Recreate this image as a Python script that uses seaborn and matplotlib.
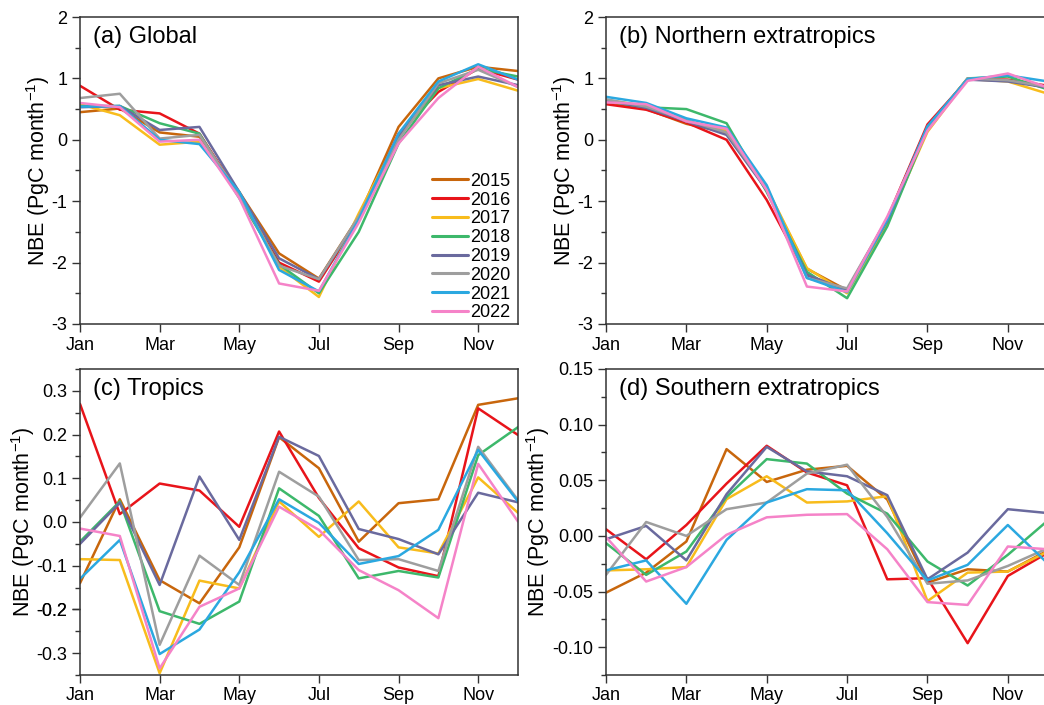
import numpy as np
import pandas as pd
import matplotlib
matplotlib.use("Agg")
import matplotlib.pyplot as plt
from matplotlib.ticker import MultipleLocator
import seaborn as sns

months = list(range(1, 13))
month_labels = ["Jan", "Mar", "May", "Jul", "Sep", "Nov"]
years = ["2015", "2016", "2017", "2018", "2019", "2020", "2021", "2022"]

glob = {
    "2015": [0.45, 0.51, 0.12, 0.05, -0.85, -1.85, -2.26, -1.25, 0.21, 1.00, 1.19, 1.12],
    "2016": [0.88, 0.49, 0.43, 0.10, -0.90, -2.00, -2.31, -1.30, 0.10, 0.78, 1.16, 0.98],
    "2017": [0.58, 0.40, -0.08, -0.03, -0.85, -2.07, -2.56, -1.20, 0.05, 0.84, 0.99, 0.80],
    "2018": [0.55, 0.55, 0.27, 0.10, -0.95, -2.03, -2.50, -1.50, -0.06, 0.84, 1.16, 1.03],
    "2019": [0.53, 0.55, 0.16, 0.21, -0.85, -1.93, -2.27, -1.28, 0.05, 0.89, 1.03, 0.89],
    "2020": [0.68, 0.75, 0.02, 0.08, -0.90, -2.05, -2.27, -1.25, 0.00, 0.92, 1.14, 0.86],
    "2021": [0.54, 0.55, 0.00, -0.07, -0.85, -2.12, -2.47, -1.30, 0.10, 0.95, 1.23, 0.98],
    "2022": [0.60, 0.53, -0.03, 0.00, -0.95, -2.34, -2.46, -1.35, -0.06, 0.68, 1.19, 0.86],
}
north = {
    "2015": [0.62, 0.50, 0.26, 0.12, -0.80, -2.10, -2.45, -1.30, 0.20, 1.00, 0.97, 0.85],
    "2016": [0.58, 0.49, 0.28, 0.00, -0.98, -2.20, -2.45, -1.28, 0.25, 0.98, 0.98, 0.88],
    "2017": [0.65, 0.55, 0.30, 0.15, -0.78, -2.09, -2.50, -1.35, 0.13, 0.99, 0.95, 0.75],
    "2018": [0.63, 0.53, 0.50, 0.27, -0.85, -2.15, -2.58, -1.41, 0.18, 1.00, 1.03, 0.82],
    "2019": [0.64, 0.52, 0.30, 0.08, -0.82, -2.20, -2.45, -1.32, 0.20, 0.98, 0.95, 0.85],
    "2020": [0.66, 0.54, 0.32, 0.12, -0.80, -2.25, -2.42, -1.28, 0.18, 1.00, 0.97, 0.86],
    "2021": [0.70, 0.60, 0.35, 0.20, -0.74, -2.25, -2.48, -1.30, 0.22, 0.99, 1.05, 0.95],
    "2022": [0.61, 0.58, 0.30, 0.18, -0.82, -2.39, -2.47, -1.25, 0.15, 0.96, 1.08, 0.85],
}
tropics = {
    "2015": [-0.140, 0.052, -0.133, -0.186, -0.058, 0.194, 0.123, -0.045, 0.043, 0.052, 0.268, 0.283],
    "2016": [0.270, 0.018, 0.088, 0.072, -0.011, 0.207, 0.055, -0.060, -0.104, -0.124, 0.260, 0.199],
    "2017": [-0.085, -0.087, -0.346, -0.134, -0.152, 0.047, -0.034, 0.047, -0.058, -0.072, 0.102, 0.021],
    "2018": [-0.045, 0.047, -0.204, -0.233, -0.182, 0.077, 0.014, -0.129, -0.112, -0.127, 0.153, 0.217],
    "2019": [-0.050, 0.044, -0.144, 0.104, -0.041, 0.195, 0.151, -0.016, -0.039, -0.074, 0.067, 0.045],
    "2020": [0.010, 0.134, -0.281, -0.077, -0.144, 0.115, 0.058, -0.087, -0.085, -0.112, 0.172, 0.050],
    "2021": [-0.130, -0.041, -0.302, -0.246, -0.115, 0.052, -0.002, -0.096, -0.078, -0.018, 0.165, 0.047],
    "2022": [-0.015, -0.032, -0.335, -0.194, -0.152, 0.035, -0.018, -0.110, -0.156, -0.220, 0.133, 0.001],
}
south = {
    "2015": [-0.051, -0.033, -0.005, 0.078, 0.0485, 0.0595, 0.063, 0.0327, -0.042, -0.030, -0.032, -0.013],
    "2016": [0.006, -0.021, 0.0098, 0.047, 0.081, 0.057, 0.0455, -0.039, -0.038, -0.0964, -0.036, -0.015],
    "2017": [-0.031, -0.030, -0.028, 0.033, 0.0536, 0.030, 0.031, 0.0357, -0.0586, -0.033, -0.032, -0.014],
    "2018": [-0.0065, -0.035, -0.014, 0.035, 0.069, 0.065, 0.038, 0.020, -0.023, -0.0446, -0.017, 0.014],
    "2019": [-0.003, 0.009, -0.022, 0.0375, 0.080, 0.058, 0.0536, 0.0366, -0.039, -0.015, 0.024, 0.0205],
    "2020": [-0.035, 0.0125, 0.000, 0.024, 0.030, 0.056, 0.064, 0.017, -0.043, -0.040, -0.027, -0.011],
    "2021": [-0.031, -0.022, -0.061, -0.0036, 0.030, 0.042, 0.041, 0.0024, -0.040, -0.026, 0.0098, -0.025],
    "2022": [-0.001, -0.041, -0.028, 0.001, 0.0167, 0.019, 0.0196, -0.012, -0.0595, -0.062, -0.0095, -0.012],
}

colors = ["#C8660C", "#E8141A", "#F8BC1C", "#3DB86B", "#6A6A9E", "#9E9E9E", "#2BA8E0", "#F583C8"]
palette = dict(zip(years, colors))

sns.set_theme(style="ticks")
plt.rcParams["font.family"] = ["Liberation Sans", "DejaVu Sans"]
plt.rcParams["axes.unicode_minus"] = False
plt.rcParams["mathtext.fontset"] = "custom"
plt.rcParams["mathtext.rm"] = "Liberation Sans"
plt.rcParams["mathtext.it"] = "Liberation Sans"
plt.rcParams["text.color"] = "black"
plt.rcParams["axes.labelcolor"] = "black"
plt.rcParams["axes.edgecolor"] = "#333333"
plt.rcParams["axes.linewidth"] = 1.1
plt.rcParams["xtick.color"] = "#333333"
plt.rcParams["ytick.color"] = "#333333"
plt.rcParams["xtick.labelcolor"] = "black"
plt.rcParams["ytick.labelcolor"] = "black"

W, H = 1044, 705
fig = plt.figure(figsize=(W / 100, H / 100), dpi=100)


def add_ax(left, top, width, height):
    return fig.add_axes([left / W, 1 - (top + height) / H, width / W, height / H])


panels = [
    (glob, "(a) Global", (80, 17, 438, 307), (-3, 2), 1.0, 0.5, "{:.0f}"),
    (north, "(b) Northern extratropics", (606, 17, 442, 307), (-3, 2), 1.0, 0.5, "{:.0f}"),
    (tropics, "(c) Tropics", (80, 369, 438, 306), (-0.35, 0.35), 0.1, 0.05, "{:.1f}"),
    (south, "(d) Southern extratropics", (606, 369, 442, 306), (-0.125, 0.15), 0.05, 0.025, "{:.2f}"),
]

for i, (data, title, pos, ylim, major, minor, fmt) in enumerate(panels):
    ax = add_ax(*pos)
    rows = []
    for y in years:
        for m, v in zip(months, data[y]):
            rows.append({"month": m, "NBE": v, "year": y})
    df = pd.DataFrame(rows)
    sns.lineplot(data=df, x="month", y="NBE", hue="year", hue_order=years,
                 palette=palette, estimator=None, linewidth=1.8, ax=ax,
                 legend=(i == 0))
    ax.set_xlim(1, 12)
    ax.set_ylim(*ylim)
    ax.set_xticks([1, 3, 5, 7, 9, 11])
    ax.set_xticklabels(month_labels)
    ax.yaxis.set_major_locator(MultipleLocator(major))
    ax.yaxis.set_minor_locator(MultipleLocator(minor))
    ticks = [t for t in np.arange(ylim[0] - major, ylim[1] + major, major)
             if ylim[0] - 1e-9 <= t <= ylim[1] + 1e-9]
    ticks = [round(t / major) * major for t in ticks]
    ax.set_yticks(ticks)
    ax.set_yticklabels([fmt.format(t + 0.0) for t in ticks])
    ax.tick_params(axis="both", which="major", direction="out", length=6,
                   width=1.0, labelsize=13, pad=3)
    ax.tick_params(axis="y", which="minor", direction="out", length=3.5, width=1.0)
    ax.set_xlabel("")
    ax.set_ylabel("NBE (PgC month$^{\\mathregular{-1}}$)", fontsize=15.5, labelpad=0)
    for s in ax.spines.values():
        s.set_visible(True)
    ax.annotate(title, xy=(0, 1), xycoords="axes fraction",
                xytext=(13, -20), textcoords="offset pixels",
                ha="left", va="center", fontsize=17)
    if i == 0:
        handles, labels = ax.get_legend_handles_labels()
        for h in handles:
            h.set_linewidth(2.2)
        ax.legend(handles, labels, loc="lower right", frameon=False,
                  bbox_to_anchor=(1.0, -0.015), borderaxespad=0.0,
                  fontsize=13, handlelength=2.0, handletextpad=0.15,
                  labelspacing=0.1)

fig.savefig("out.png", dpi=100)
